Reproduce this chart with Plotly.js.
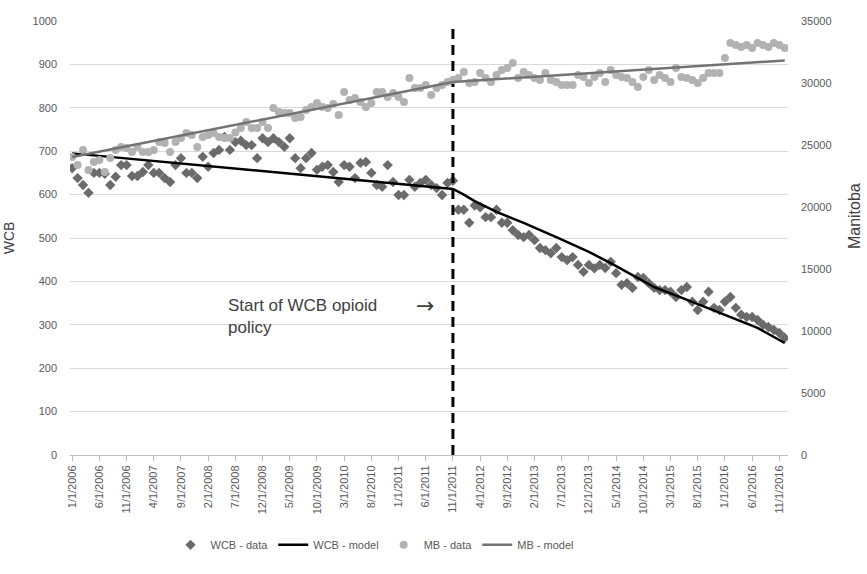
<!DOCTYPE html>
<html>
<head>
<meta charset="utf-8">
<script src="https://cdn.plot.ly/plotly-3.0.1.min.js"></script>
<style>html,body{margin:0;padding:0;background:#fff;}#chart{width:867px;height:574px;}</style>
</head>
<body>
<div id="chart"></div>
<script>
// Monthly categories 1/1/2006 .. 12/1/2016
const months = [];
for (let yr = 2006; yr <= 2016; yr++) {
  for (let m = 1; m <= 12; m++) months.push(m + "/1/" + yr);
}

const tickLabels = ["1/1/2006","6/1/2006","11/1/2006","4/1/2007","9/1/2007","2/1/2008","7/1/2008",
  "12/1/2008","5/1/2009","10/1/2009","3/1/2010","8/1/2010","1/1/2011","6/1/2011","11/1/2011",
  "4/1/2012","9/1/2012","2/1/2013","7/1/2013","12/1/2013","5/1/2014","10/1/2014","3/1/2015",
  "8/1/2015","1/1/2016","6/1/2016","11/1/2016"];

const policyDate = "11/1/2011";

// WCB - data (left axis)
const wcbData = [
  661,638,622,604,650,650,648,622,641,668,668,643,
  643,652,668,650,650,638,629,668,684,650,650,638,
  687,664,696,703,733,703,721,724,714,714,684,730,
  721,730,721,710,730,684,661,684,696,657,664,668,
  652,629,668,664,638,673,675,650,622,618,668,629,
  599,599,634,618,627,634,622,615,599,627,632,565,
  565,535,575,571,548,548,565,535,535,518,507,502,
  507,495,477,472,465,477,456,449,456,438,422,438,
  430,438,431,445,419,392,396,385,410,408,396,385,
  380,380,376,364,380,387,353,334,353,376,339,334,
  353,364,339,323,318,318,311,300,295,288,281,270
];

// WCB - model vertices (left axis)
const wcbModelDates = ["1/1/2006","11/1/2011","1/1/2012","3/1/2012","7/1/2012","12/1/2012","6/1/2013",
  "12/1/2013","4/1/2014","7/1/2014","12/1/2014","7/1/2015","1/1/2016","7/1/2016","12/1/2016"];
const wcbModel = [695,613,600,585,560,535,502,468,442,422,387,353,323,293,258];

// MB - data (right axis)
const mbData = [
  24030,23390,24600,22980,23630,23790,22820,23950,24600,24840,24760,24440,
  24840,24440,24440,24600,25240,25160,24440,25240,25560,25970,25810,24840,
  25650,25810,25970,25650,25560,25560,26000,26370,26850,26370,26370,26850,
  26370,27980,27660,27580,27580,27180,27260,27820,28060,28390,28060,27980,
  28300,27420,29270,28630,28790,28470,28060,28390,29270,29270,28870,29190,
  28870,28470,30400,29600,29600,29840,29030,29600,29840,30080,30240,30400,
  30890,30000,30080,30810,30400,30080,30650,31050,31210,31610,30400,30890,
  30650,30400,30240,30810,30240,30080,29840,29840,29840,30650,30480,30000,
  30480,30810,30080,31050,30650,30480,30400,30080,29680,30480,31050,30240,
  30650,30400,30080,31210,30480,30400,30240,30000,30400,30810,30810,30810,
  32020,33230,33060,32900,33060,32820,33230,33060,32900,33230,33060,32820
];

// MB - model vertices (right axis)
const mbModelDates = ["1/1/2006","11/1/2011","12/1/2016"];
const mbModel = [24030, 30080, 31820];

const FONT = "Liberation Sans, Arial, sans-serif";

const traces = [
  {
    x: months, y: wcbData, name: "WCB - data", type: "scatter", mode: "markers",
    marker: {symbol: "diamond", size: 8, color: "#6b6b6b"}, yaxis: "y"
  },
  {
    x: wcbModelDates, y: wcbModel, name: "WCB - model", type: "scatter", mode: "lines",
    line: {color: "#000000", width: 2.5}, yaxis: "y"
  },
  {
    x: [policyDate, policyDate], y: [0, 985], type: "scatter", mode: "lines",
    line: {color: "#000000", width: 3, dash: "10px,6px"}, showlegend: false, hoverinfo: "skip", yaxis: "y"
  },
  {
    x: months, y: mbData, name: "MB - data", type: "scatter", mode: "markers",
    marker: {symbol: "circle", size: 8, color: "#b2b2b2"}, yaxis: "y2"
  },
  {
    x: mbModelDates, y: mbModel, name: "MB - model", type: "scatter", mode: "lines",
    line: {color: "#737373", width: 2.5}, yaxis: "y2"
  }
];

const layout = {
  width: 867, height: 574,
  margin: {l: 70, r: 79, t: 21, b: 119},
  paper_bgcolor: "#ffffff", plot_bgcolor: "#ffffff",
  font: {family: FONT, size: 11, color: "#595959"},
  showlegend: true,
  legend: {orientation: "h", x: 0.14, xanchor: "left", y: -0.207, yanchor: "middle",
    font: {family: FONT, size: 11, color: "#595959"}, itemwidth: 30, tracegroupgap: 0},
  xaxis: {
    type: "category", categoryorder: "array", categoryarray: months,
    range: [-0.4, 131.6], tickmode: "array", tickvals: tickLabels, ticktext: tickLabels,
    tickangle: -90, ticks: "outside", ticklen: 5, tickcolor: "#bfbfbf",
    showline: true, linecolor: "#bfbfbf", linewidth: 1, showgrid: false, zeroline: false,
    tickfont: {family: FONT, size: 11, color: "#595959"}
  },
  yaxis: {
    range: [0, 1000], dtick: 100, tick0: 0, showgrid: true, gridcolor: "#d9d9d9", gridwidth: 1,
    zeroline: false, showline: false, ticks: "", ticklabelstandoff: 12,
    tickfont: {family: FONT, size: 11, color: "#595959"},
    title: {text: "WCB", font: {family: FONT, size: 14, color: "#404040"}, standoff: 14}
  },
  yaxis2: {
    range: [0, 35000], dtick: 5000, tick0: 0, overlaying: "y", side: "right",
    tickformat: "d", exponentformat: "none", separatethousands: false,
    showgrid: false, zeroline: false, showline: false, ticks: "", ticklabelstandoff: 12,
    tickfont: {family: FONT, size: 11, color: "#595959"}
  },
  annotations: [
    {xref: "paper", yref: "paper", x: 0.217, y: 0.37, xanchor: "left", yanchor: "top", align: "left",
      text: "Start of WCB opioid<br>policy", showarrow: false,
      font: {family: FONT, size: 17, color: "#404040"}},
    {xref: "paper", yref: "paper", x: 0.495, y: 0.3456, xanchor: "center", yanchor: "middle",
      text: "→", showarrow: false, font: {family: "DejaVu Sans", size: 22, color: "#404040"}},
    {xref: "paper", yref: "paper", x: 1.093, y: 0.55, xanchor: "center", yanchor: "middle",
      text: "Manitoba", textangle: -90, showarrow: false,
      font: {family: FONT, size: 16, color: "#404040"}}
  ]
};

Plotly.newPlot("chart", traces, layout, {displayModeBar: false, staticPlot: true});
</script>
</body>
</html>
